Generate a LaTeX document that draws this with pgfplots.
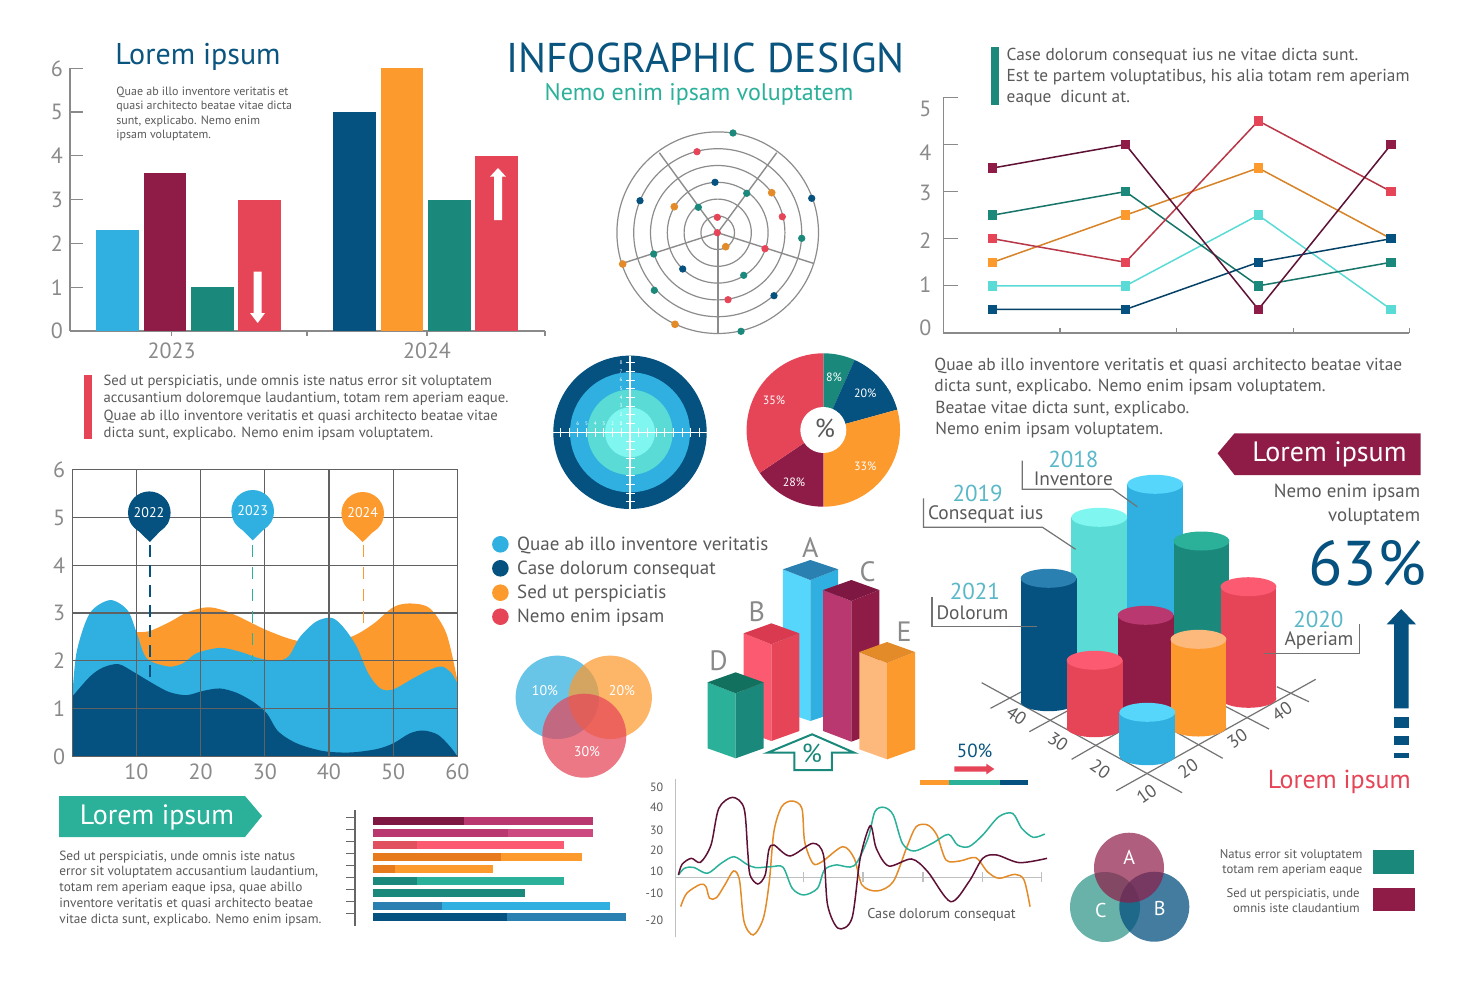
\documentclass[border=0pt]{standalone}
\usepackage{fontspec}
\setmainfont{PT Sans}
\usepackage{pgfplots}
\pgfplotsset{compat=1.18}
\definecolor{cblue}{HTML}{2FB0E0}
\definecolor{lblue}{HTML}{55D6FA}
\definecolor{crim}{HTML}{8E1C47}
\definecolor{lcrim}{HTML}{B8386F}
\definecolor{dcrim}{HTML}{7F1743}
\definecolor{vcrim}{HTML}{5E1035}
\definecolor{pcrim}{HTML}{CC4A80}
\definecolor{teal2}{HTML}{1A897B}
\definecolor{lteal}{HTML}{2BB09A}
\definecolor{dteal}{HTML}{12705F}
\definecolor{red2}{HTML}{E64558}
\definecolor{lred}{HTML}{FB5A70}
\definecolor{dred}{HTML}{D93A50}
\definecolor{mred}{HTML}{E0505F}
\definecolor{navy2}{HTML}{05517F}
\definecolor{mblue}{HTML}{2A80B0}
\definecolor{orng}{HTML}{FD9A2E}
\definecolor{lorng}{HTML}{FDB97C}
\definecolor{dorng}{HTML}{E87A1E}
\definecolor{aqua}{HTML}{5ADBD5}
\definecolor{laqua}{HTML}{7FF7F0}
\definecolor{gtick}{HTML}{8A8A8A}
\definecolor{gtext}{HTML}{5A5A5A}
\definecolor{cal}{HTML}{5BB8C8}
\definecolor{ttl}{HTML}{0A5580}
\newcommand\fs[1]{\fontsize{#1}{#1}\selectfont}
\newcommand\T[6]{\node[anchor=#3,inner sep=0pt,text=#4,font=\fs{#5},text height=#5*0.8pt,text depth=#5*0.2pt] at (axis cs:#1,#2) {#6};}
\newcommand\TR[6]{\node[anchor=center,inner sep=0pt,text=#3,font=\fs{#4},rotate=#5] at (axis cs:#1,#2) {#6};}
\newcommand\poly[2]{\addplot[fill=#1,draw=none] coordinates {#2} -- cycle;}
\newcommand\pline[3]{\addplot[color=#1,line width=#2] coordinates {#3};}
\newcommand\Cir[5]{\fill[#4,opacity=#5] (axis cs:#1,#2) circle[radius=#3*0.5pt];}
\newcommand\Cyl[5]{%
 \fill[#4] (axis cs:#1,#3) ellipse[x radius=13.95pt,y radius=4.75pt];
 \fill[#4] (axis cs:{#1-27.9},#2) rectangle (axis cs:{#1+27.9},#3);
 \fill[#5] (axis cs:#1,#2) ellipse[x radius=13.95pt,y radius=4.75pt];}
\pgfplotsset{
 pix/.style={at={(0pt,0pt)},anchor=south west,x=0.5pt,y=0.5pt,xmin=0,xmax=1475,ymin=0,ymax=980,y dir=reverse,hide axis,clip=false,enlargelimits=false},
 chart/.style={scale only axis,anchor=south west,enlargelimits=false,
   axis line style={draw=gtick,line width=0.6pt},tick style={draw=gtick,line width=0.6pt},
   tick label style={font=\fs{11},text=gtick},/pgf/number format/assume math mode=true}
}
\begin{document}
\begin{tikzpicture}
\path[use as bounding box,fill=white] (0,0) rectangle (737.5pt,490pt);
% ---------- bar chart
\begin{axis}[chart,at={(35pt,324.5pt)},width=237.5pt,height=131.35pt,xmin=0,xmax=475,ymin=0,ymax=6,
  axis x line=bottom,axis y line=left,axis line style={-},tick align=inside,major tick length=6.5pt,
  ytick={0,1,...,6},xtick={237,475},xticklabels={},
  x tick style={/pgfplots/major tick length=2.5pt},
  extra x ticks={101.7,357},extra x tick labels={2023,2024},
  extra x tick style={major tick length=0pt,tick label style={yshift=-2.5pt}},
  ybar,bar width=21.35pt,bar shift=0pt]
\addplot[fill=cblue,draw=none] coordinates {(47.7,2.3)};
\addplot[fill=crim,draw=none] coordinates {(95,3.6)};
\addplot[fill=teal2,draw=none] coordinates {(142.5,1)};
\addplot[fill=red2,draw=none] coordinates {(189.8,3)};
\addplot[fill=navy2,draw=none] coordinates {(284.7,5)};
\addplot[fill=orng,draw=none] coordinates {(332,6)};
\addplot[fill=teal2,draw=none] coordinates {(379.3,3)};
\addplot[fill=red2,draw=none] coordinates {(426.8,4)};
\end{axis}
% ---------- line chart
\begin{axis}[chart,at={(471.65pt,323.5pt)},width=233pt,height=117.85pt,xmin=0.628,xmax=4.137,ymin=0,ymax=5,
  axis x line=bottom,axis y line=left,axis line style={-},tick align=inside,major tick length=7.5pt,
  ytick={0,1,...,5},yticklabels={},xtick={1.507,2.386,3.264,4.137},xticklabels={},
  x tick style={/pgfplots/major tick length=2.5pt},
  extra y ticks={4.75,3.83,2.97,1.95,1.02,0.1},extra y tick labels={5,4,3,2,1,0},
  extra y tick style={major tick length=0pt,tick label style={xshift=-2.5pt}},clip=false]
\addplot[color=aqua,line width=0.75pt,mark=square*,mark size=2pt,mark options={fill=aqua,draw=aqua}] coordinates {(1,1)(2,1)(3,2.5)(4,0.5)};
\addplot[color=orng!85!black,line width=0.75pt,mark=square*,mark size=2pt,mark options={fill=orng,draw=orng}] coordinates {(1,1.5)(2,2.5)(3,3.5)(4,2)};
\addplot[color=teal2!85!black,line width=0.75pt,mark=square*,mark size=2pt,mark options={fill=teal2,draw=teal2}] coordinates {(1,2.5)(2,3)(3,1)(4,1.5)};
\addplot[color=red2!80!black,line width=0.75pt,mark=square*,mark size=2pt,mark options={fill=red2,draw=red2}] coordinates {(1,2)(2,1.5)(3,4.5)(4,3)};
\addplot[color=navy2!80!black,line width=0.75pt,mark=square*,mark size=2pt,mark options={fill=navy2,draw=navy2}] coordinates {(1,0.5)(2,0.5)(3,1.5)(4,2)};
\addplot[color=vcrim,line width=0.75pt,mark=square*,mark size=2pt,mark options={fill=crim,draw=crim}] coordinates {(1,3.5)(2,4)(3,0.5)(4,4)};
\end{axis}
% ---------- area chart
\begin{axis}[chart,at={(36.15pt,111.85pt)},width=192.5pt,height=143.3pt,xmin=0,xmax=60,ymin=0,ymax=6,
  grid=major,grid style={draw=black!62,line width=0.6pt},axis on top,
  axis line style={draw=black!62,line width=0.6pt},major tick length=0pt,
  xtick={10,20,...,60},ytick={0,1,...,6},tick label style={font=\fs{11},text=gtick}]
\addplot[fill=orng,draw=none,smooth] coordinates {(10,2.6)(12,2.62)(15,2.8)(18,3.02)(21,3.12)(23.5,3.06)(26,2.92)(30.3,2.64)(35,2.42)(40,2.4)(43.8,2.52)(47,2.78)(50,3.12)(52.6,3.2)(55.7,3.1)(58.3,2.57)(60,1.6)} -- (axis cs:60,0) -- (axis cs:10,0) -- cycle;
\addplot[fill=cblue,draw=none,smooth] coordinates {(0,1.25)(0.7,2.2)(2.75,3.0)(5.9,3.27)(8.6,3.06)(10,2.6)(11.6,2.05)(15,1.88)(17.3,1.95)(19.4,2.16)(23,2.27)(26.1,2.19)(29.2,2.05)(31.8,2.0)(33.7,2.09)(35.5,2.5)(38,2.82)(40.4,2.9)(42.2,2.71)(44.3,2.3)(46.1,1.74)(48,1.42)(50,1.4)(53.1,1.63)(55.7,1.81)(57.6,1.88)(59.1,1.74)(60,1.53)} -- (axis cs:60,0) -- (axis cs:0,0) -- cycle;
\addplot[fill=navy2,draw=none,smooth] coordinates {(0,1.25)(2.75,1.67)(4.8,1.86)(7.2,1.93)(9.5,1.77)(12.1,1.56)(15,1.35)(17.8,1.28)(20.4,1.37)(23,1.42)(25.6,1.33)(28.2,1.14)(30.3,0.9)(32.1,0.52)(35,0.27)(39.1,0.11)(43.3,0.08)(47.4,0.15)(50,0.27)(52.6,0.48)(54.7,0.54)(57,0.45)(58.9,0.2)(60,0)} -- (axis cs:0,0) -- cycle;
\end{axis}
% ---------- horizontal bars
\begin{axis}[scale only axis,anchor=south west,at={(177.5pt,27.15pt)},width=150pt,height=57.85pt,
  xmin=-18,xmax=282,ymin=810,ymax=925.7,y dir=reverse,clip=false,
  axis x line=none,axis y line=left,axis line style={-,draw=black!60,line width=0.6pt},
  tick style={draw=black!60,line width=0.6pt},tick align=outside,major tick length=4.5pt,
  ytick={817.3,829.3,841.7,853.3,865.7,877.7,889.7,901.7,913.7},yticklabels={},
  xbar,bar width=4.15pt,bar shift=0pt]
\addplot[fill=lcrim,draw=none] coordinates {(219.9,820.7)};
\addplot[fill=dcrim,draw=none] coordinates {(90.9,820.7)};
\addplot[fill=pcrim,draw=none] coordinates {(219.9,832.8)};
\addplot[fill=lcrim,draw=none] coordinates {(134.5,832.8)};
\addplot[fill=lred,draw=none] coordinates {(190.5,844.8)};
\addplot[fill=mred,draw=none] coordinates {(44,844.8)};
\addplot[fill=orng,draw=none] coordinates {(208.9,856.8)};
\addplot[fill=dorng,draw=none] coordinates {(127.6,856.8)};
\addplot[fill=orng,draw=none] coordinates {(119.8,868.8)};
\addplot[fill=dorng,draw=none] coordinates {(21.5,868.8)};
\addplot[fill=lteal,draw=none] coordinates {(190.5,880.8)};
\addplot[fill=teal2,draw=none] coordinates {(44,880.8)};
\addplot[fill=teal2,draw=none] coordinates {(151.5,893.3)};
\addplot[fill=cblue,draw=none] coordinates {(236.9,905.7)};
\addplot[fill=mblue,draw=none] coordinates {(68.8,905.7)};
\addplot[fill=mblue,draw=none] coordinates {(253.4,917)};
\addplot[fill=navy2,draw=none] coordinates {(133.6,917)};
\end{axis}
% ---------- spline chart
\begin{axis}[scale only axis,anchor=south west,at={(337.6pt,21.35pt)},width=183.15pt,height=79.15pt,
  xmin=730,xmax=1528,ymin=-180,ymax=295,clip=false,
  axis y line=left,axis x line=middle,axis line style={-,draw=black!25,line width=0.7pt},
  major tick length=5pt,xtick={1010,1139,1270,1399,1528},xticklabels={},
  x tick style={draw=black!25,line width=0.7pt},y tick style={draw=none},
  ytick={271,209,142,82,19,-48,-130},yticklabels={50,40,30,20,10,-10,-20},
  tick label style={font=\fs{6},text=gtext},/pgf/number format/assume math mode=true,
  every axis plot/.append style={line width=0.75pt,smooth}]
\addplot[color=orng!90!black] coordinates {(742,-88)(755,-48)(785,-21)(797,-28)(805,-63)(820,-61)(838,-23)(857,19)(870,-8)(880,-133)(900,-173)(922,-123)(935,-13)(945,137)(962,212)(985,229)(1006,207)(1012,107)(1030,42)(1050,47)(1095,92)(1120,57)(1137,-23)(1170,-41)(1205,-13)(1235,92)(1255,152)(1280,157)(1300,127)(1320,52)(1350,49)(1385,59)(1410,17)(1435,-3)(1470,9)(1490,-8)(1503,-88)};
\addplot[color=lteal] coordinates {(737,7)(750,27)(770,30)(800,12)(830,42)(858,62)(885,40)(905,29)(940,32)(965,30)(985,-33)(1010,-53)(1040,-33)(1055,22)(1080,37)(1120,35)(1150,117)(1165,197)(1185,210)(1205,187)(1225,102)(1250,79)(1290,102)(1325,129)(1345,97)(1370,92)(1400,127)(1435,182)(1465,192)(1485,147)(1510,120)(1535,130)};
\addplot[color=vcrim] coordinates {(737,7)(745,39)(765,57)(785,45)(808,97)(825,207)(855,240)(880,207)(888,77)(893,7)(910,-20)(926,7)(934,82)(945,97)(980,64)(1030,102)(1053,67)(1062,-83)(1085,-153)(1115,-123)(1133,57)(1155,155)(1168,87)(1195,34)(1245,55)(1280,17)(1330,-73)(1370,-13)(1400,57)(1430,67)(1480,44)(1540,57)};
\end{axis}
% ---------- pie
\begin{axis}[at={(371.65pt,235pt)},anchor=south west,x=0.5pt,y=0.5pt,xmin=-80,xmax=80,ymin=-80,ymax=80,hide axis,clip=false,enlargelimits=false]
\fill[teal2] (axis cs:0,0) -- (axis cs:0,76.7) arc[start angle=90,end angle=66,radius=38.35pt] -- cycle;
\fill[navy2] (axis cs:0,0) -- (axis cs:31.2,70.07) arc[start angle=66,end angle=15.4,radius=38.35pt] -- cycle;
\fill[orng] (axis cs:0,0) -- (axis cs:73.95,20.37) arc[start angle=15.4,end angle=-90,radius=38.35pt] -- cycle;
\fill[crim] (axis cs:0,0) -- (axis cs:0,-76.7) arc[start angle=-90,end angle=-146,radius=38.35pt] -- cycle;
\fill[red2] (axis cs:0,0) -- (axis cs:-63.59,-42.89) arc[start angle=-146,end angle=-270,radius=38.35pt] -- cycle;
\fill[white] (axis cs:0,0) circle[radius=11.5pt];
\end{axis}
% ---------- everything positioned in image pixels
\begin{axis}[pix]
% arrows on bars
\poly{white}{(253.7,271.7)(261.7,271.7)(261.7,313)(265,313)(257.7,323)(250,313)(253.7,313)}
\poly{white}{(494,220)(502,220)(502,176.7)(506,176.7)(498,168)(490,176.7)(494,176.7)}
% titles and text
\T{705.5}{60}{center}{ttl}{20.8}{INFOGRAPHIC DESIGN}
\T{699}{93}{center}{lteal}{12}{Nemo enim ipsam voluptatem}
\T{198}{55}{center}{ttl}{15}{Lorem ipsum}
\T{116}{91.7}{west}{gtext}{6}{Quae ab illo inventore veritatis et}
\T{116}{106}{west}{gtext}{6}{quasi architecto beatae vitae dicta}
\T{116}{120.7}{west}{gtext}{6}{sunt, explicabo. Nemo enim}
\T{116}{135}{west}{gtext}{6}{ipsam voluptatem.}
\poly{red2}{(83.7,375)(91.7,375)(91.7,439.3)(83.7,439.3)}
\T{103.3}{380.7}{west}{gtext}{7.33}{Sed ut perspiciatis, unde omnis iste natus error sit voluptatem}
\T{103.3}{398}{west}{gtext}{7.33}{accusantium doloremque laudantium, totam rem aperiam eaque.}
\T{103.3}{415.7}{west}{gtext}{7.33}{Quae ab illo inventore veritatis et quasi architecto beatae vitae}
\T{103.3}{433}{west}{gtext}{7.33}{dicta sunt, explicabo. Nemo enim ipsam voluptatem.}
\poly{teal2}{(990.7,46.7)(998.7,46.7)(998.7,105.3)(990.7,105.3)}
\T{1006.3}{55}{west}{gtext}{8.65}{Case dolorum consequat ius ne vitae dicta sunt.}
\T{1006.3}{76}{west}{gtext}{8.65}{Est te partem voluptatibus, his alia totam rem aperiam}
\T{1006.3}{97}{west}{gtext}{8.65}{eaque\ \ dicunt at.}
\T{934}{365}{west}{gtext}{8.7}{Quae ab illo inventore veritatis et quasi architecto beatae vitae}
\T{934}{386}{west}{gtext}{8.7}{dicta sunt, explicabo. Nemo enim ipsam voluptatem.}
\T{935}{408}{west}{gtext}{8.7}{Beatae vitae dicta sunt, explicabo.}
\T{935}{429}{west}{gtext}{8.7}{Nemo enim ipsam voluptatem.}
% radar
\pgfplotsinvokeforeach{16.8,33.6,50.4,67.2,84,100.8}{\draw[black!45,line width=0.6pt] (axis cs:717.7,232.7) circle[radius=#1*0.5pt];}
\pline{black!45}{0.7pt}{(659.3,152.7)(717.7,232.7)(776.7,152.7)}
\pline{black!45}{0.7pt}{(622.7,263.3)(717.7,232.7)(813.3,263.3)}
\pline{black!45}{0.9pt}{(717.7,232.7)(717.7,333.3)}
\addplot[only marks,mark=*,mark size=1.6pt,mark options={fill=teal2,draw=teal2}] coordinates {(733,133)(746.7,193.3)(698.3,207.3)(801.7,238.3)(653.7,254)(743.7,275.3)(654.3,290.3)(741,331.3)};
\addplot[only marks,mark=*,mark size=1.6pt,mark options={fill=red2,draw=red2}] coordinates {(697,151.7)(782.3,216.7)(717.3,217.3)(717.3,232.7)(765,248.7)(728,299.7)};
\addplot[only marks,mark=*,mark size=1.6pt,mark options={fill=navy2,draw=navy2}] coordinates {(715,182.3)(811.7,198.3)(640,200.7)(682.7,269)(774,295.7)};
\addplot[only marks,mark=*,mark size=1.7pt,mark options={fill=orng!90!black,draw=orng!90!black}] coordinates {(771.7,192.7)(674.3,206.7)(725.7,246.7)(622.7,264)(675,324.3)};
% target
\Cir{630}{432.3}{76.7}{navy2}{1}
\Cir{630}{432.3}{60}{cblue}{1}
\Cir{630}{432.3}{42.7}{aqua}{1}
\Cir{630}{432.3}{25}{laqua}{1}
\pline{white}{0.7pt}{(553,432.3)(707,432.3)}
\pline{white}{0.7pt}{(630,356)(630,509)}
\pgfplotsinvokeforeach{1,...,8}{
 \draw[white,line width=0.5pt] (axis cs:{630+8.7*#1},428) -- (axis cs:{630+8.7*#1},436.5);
 \draw[white,line width=0.5pt] (axis cs:{630-8.7*#1},428) -- (axis cs:{630-8.7*#1},436.5);
 \draw[white,line width=0.5pt] (axis cs:625.5,{432.3+8.7*#1}) -- (axis cs:634.5,{432.3+8.7*#1});
 \draw[white,line width=0.5pt] (axis cs:625.5,{432.3-8.7*#1}) -- (axis cs:634.5,{432.3-8.7*#1});
 \node[text=white,font=\fs{2.6},inner sep=0pt] at (axis cs:621,{432.3-8.7*#1}) {#1};
}
\pgfplotsinvokeforeach{1,...,6}{\node[text=white,font=\fs{2.6},inner sep=0pt] at (axis cs:{630-8.7*#1},424) {#1};}
% pie labels
\T{834}{378.3}{center}{white}{6}{8\%}
\T{865.3}{394.3}{center}{white}{6}{20\%}
\T{865.3}{466.7}{center}{white}{6}{33\%}
\T{794}{482.7}{center}{white}{6}{28\%}
\T{774}{400.7}{center}{white}{6}{35\%}
\T{825}{430}{center}{gtext}{13}{\%}
% area chart pins
\addplot[color=navy2,line width=1pt,dash pattern=on 6pt off 4pt] coordinates {(150,545)(150,680)};
\addplot[color=lteal,line width=0.7pt,dash pattern=on 6pt off 5pt] coordinates {(252.7,545)(252.7,663)};
\addplot[color=orng,line width=0.7pt,dash pattern=on 6pt off 5pt] coordinates {(363.3,545)(363.3,630)};
\Cir{149.3}{512.7}{21.3}{navy2}{1}
\poly{navy2}{(130.3,522.7)(149.8,542)(168.3,522.7)}
\Cir{252.7}{511.3}{21.3}{cblue}{1}
\poly{cblue}{(233.7,521.3)(252.7,540.3)(271.7,521.3)}
\Cir{362.7}{513.3}{21.3}{orng}{1}
\poly{orng}{(343.7,523.3)(362.7,542)(381.7,523.3)}
\T{149}{513}{center}{white}{7}{2022}
\T{252.7}{511.5}{center}{white}{7}{2023}
\T{362.7}{513.5}{center}{white}{7}{2024}
% legend
\Cir{500.4}{544.3}{8.3}{cblue}{1}
\Cir{500.4}{568.3}{8.3}{navy2}{1}
\Cir{500.4}{592.7}{8.3}{orng}{1}
\Cir{500.4}{616.7}{8.3}{red2}{1}
\T{516.8}{544.3}{west}{gtext}{9.5}{Quae ab illo inventore veritatis}
\T{516.8}{568.3}{west}{gtext}{9.5}{Case dolorum consequat}
\T{516.8}{592.7}{west}{gtext}{9.5}{Sed ut perspiciatis}
\T{516.8}{616.7}{west}{gtext}{9.5}{Nemo enim ipsam}
% venn 1
\Cir{557.3}{697.3}{41.7}{cblue}{0.72}
\Cir{610.2}{697.3}{41.7}{orng}{0.72}
\Cir{584.3}{735.7}{42}{red2}{0.72}
\T{545}{691}{center}{white}{7}{10\%}
\T{622}{691}{center}{white}{7}{20\%}
\T{587}{752}{center}{white}{7}{30\%}
% 3D bars
\poly{lblue}{(782.9,569.3)(810.4,580)(810.4,721)(782.9,711.7)}
\poly{cblue}{(838.2,569.3)(810.4,580)(810.4,721)(838.2,711.7)}
\poly{mblue}{(782.9,569.3)(810.4,560)(838.2,569.3)(810.4,580)}
\poly{lred}{(743.6,633.3)(771.4,644.3)(771.4,741)(743.6,731)}
\poly{red2}{(799.3,633.3)(771.4,644.3)(771.4,741)(799.3,731)}
\poly{dred}{(743.6,633.3)(771.4,623.3)(799.3,633.3)(771.4,644.3)}
\poly{lcrim}{(823.2,590)(851.4,601)(851.4,741.7)(823.2,731)}
\poly{crim}{(879.3,590)(851.4,601)(851.4,741.7)(879.3,731)}
\poly{dcrim}{(823.2,590)(851.4,580)(879.3,590)(851.4,601)}
\poly{lteal}{(707.5,682.3)(735.7,693.3)(735.7,758.3)(707.5,748.3)}
\poly{teal2}{(763.6,682.3)(735.7,693.3)(735.7,758.3)(763.6,748.3)}
\poly{dteal}{(707.5,682.3)(735.7,672.3)(763.6,682.3)(735.7,693.3)}
\poly{lorng}{(859.3,652)(887.1,663)(887.1,759.3)(859.3,749.3)}
\poly{orng}{(915,652)(887.1,663)(887.1,759.3)(915,749.3)}
\poly{orng!90!black}{(859.3,652)(887.1,642)(915,652)(887.1,663)}
\T{810.4}{549}{center}{gtick}{14}{A}
\T{756.8}{612.7}{center}{gtick}{14}{B}
\T{867.5}{572.7}{center}{gtick}{14}{C}
\T{718.6}{661.7}{center}{gtick}{14}{D}
\T{904}{633.3}{center}{gtick}{14}{E}
\addplot[color=teal2,line width=1pt] coordinates {(812.1,734.3)(854.3,752.7)(831.8,752.7)(831.8,770)(794.3,770)(794.3,752.7)(767.5,752.7)} -- cycle;
\T{812}{755}{center}{teal2}{13}{\%}
% 50% widget
\T{974.6}{751.7}{center}{ttl}{9.5}{50\%}
\poly{red2}{(954.3,766.3)(986.4,766.3)(986.4,763.7)(994.3,769)(986.4,774.3)(986.4,771.7)(954.3,771.7)}
\poly{orng}{(920,779.7)(949,779.7)(949,785)(920,785)}
\poly{lteal}{(949,779.7)(1000,779.7)(1000,785)(949,785)}
\poly{navy2}{(1000,779.7)(1027.5,779.7)(1027.5,785)(1000,785)}
% floor grid
\pline{black!55}{0.6pt}{(981.7,682.7)(1182.1,792.7)}
\pline{black!55}{0.6pt}{(1116.2,790.7)(1315.7,679.3)}
\pline{black!55}{0.6pt}{(990.5,708.3)(1021.6,691.7)}
\pline{black!55}{0.6pt}{(1029.3,731.7)(1067.2,711)}
\pline{black!55}{0.6pt}{(1071.6,759.3)(1119.6,731.7)}
\pline{black!55}{0.6pt}{(1308.9,701.7)(1276.8,686.7)}
\pline{black!55}{0.6pt}{(1269,729)(1226.1,706.7)}
\pline{black!55}{0.6pt}{(1222.7,758.3)(1175.4,731.7)}
\TR{1016.5}{715.7}{gtext}{9}{-35}{40}
\TR{1058}{741.7}{gtext}{9}{-35}{30}
\TR{1100.3}{769}{gtext}{9}{-35}{20}
\TR{1146.6}{794}{gtext}{9}{35}{10}
\TR{1187.9}{768.3}{gtext}{9}{35}{20}
\TR{1237.3}{738.3}{gtext}{9}{35}{30}
\TR{1281.9}{711.7}{gtext}{9}{35}{40}
% cylinders
\Cyl{1155.1}{484.3}{663}{cblue}{lblue}
\Cyl{1099.3}{517.3}{690}{aqua}{laqua}
\Cyl{1201.4}{541}{690}{teal2}{lteal}
\Cyl{1048.6}{578.3}{701.7}{navy2}{mblue}
\Cyl{1248.4}{586.7}{698.3}{red2}{lred}
\Cyl{1145.6}{615.3}{706.7}{crim}{lcrim}
\Cyl{1094.6}{660.3}{727.7}{red2}{lred}
\Cyl{1198.4}{639.3}{727}{orng}{lorng}
\Cyl{1147.3}{712.3}{755.7}{cblue}{lblue}
% callouts
\pline{black!55}{0.6pt}{(1022.2,460.7)(1022.2,489.3)(1112.8,489.3)(1137.2,506.7)}
\pline{black!55}{0.6pt}{(923.5,498.3)(923.5,527.3)(1042.5,527.3)(1075.6,549.3)}
\pline{black!55}{0.6pt}{(932,596.7)(932,626.7)(1036.8,626.7)}
\pline{black!55}{0.6pt}{(1359.6,624)(1359.6,653.3)(1264.3,653.3)}
\T{1073.3}{460.7}{center}{cal}{11.5}{2018}
\T{1073.3}{480}{center}{gtext}{9.7}{Inventore}
\T{977.6}{495}{center}{cal}{11.5}{2019}
\T{985.7}{514}{center}{gtext}{9.7}{Consequat ius}
\T{974.9}{592.3}{center}{cal}{11.5}{2021}
\T{972.5}{613.3}{center}{gtext}{9.7}{Dolorum}
\T{1318.4}{620.7}{center}{cal}{11.5}{2020}
\T{1319}{640}{center}{gtext}{9.7}{Aperiam}
% right column
\poly{crim}{(1217.6,453.3)(1234.5,433.3)(1420.5,433.3)(1420.5,475)(1234.5,475)}
\T{1329.5}{453}{center}{white}{14}{Lorem ipsum}
\T{1420.5}{492}{east}{gtext}{9.45}{Nemo enim ipsam}
\T{1420.5}{515.7}{east}{gtext}{9.45}{voluptatem}
\T{1367}{567}{center}{navy2}{31.6}{63\%}
\poly{navy2}{(1401.2,609)(1416,624.3)(1408.6,624.3)(1408.6,708.3)(1394,708.3)(1394,624.3)(1386.7,624.3)}
\poly{navy2}{(1394,716.7)(1408.6,716.7)(1408.6,727.7)(1394,727.7)}
\poly{navy2}{(1394,735.7)(1408.6,735.7)(1408.6,745)(1394,745)}
\poly{navy2}{(1394,753.3)(1408.6,753.3)(1408.6,758.3)(1394,758.3)}
\T{1339.3}{781}{center}{red2}{13}{Lorem ipsum}
% bottom left
\poly{lteal}{(59,796)(245,796)(262,816)(245,837)(59,837)}
\T{157}{816}{center}{white}{14}{Lorem ipsum}
\T{59}{856}{west}{gtext}{6.65}{Sed ut perspiciatis, unde omnis iste natus}
\T{59}{871}{west}{gtext}{6.65}{error sit voluptatem accusantium laudantium,}
\T{59}{887}{west}{gtext}{6.65}{totam rem aperiam eaque ipsa, quae abillo}
\T{59}{903}{west}{gtext}{6.65}{inventore veritatis et quasi architecto beatae}
\T{59}{919}{west}{gtext}{6.65}{vitae dicta sunt, explicabo. Nemo enim ipsam.}
\T{941.5}{914}{center}{gtext}{7.1}{Case dolorum consequat}
% venn 2
\Cir{1105}{907}{35}{teal2}{0.65}
\Cir{1154.3}{906.7}{35}{navy2}{0.75}
\Cir{1129}{867.7}{35}{crim}{0.7}
\T{1129.3}{858.3}{center}{white}{10}{A}
\T{1100.7}{911}{center}{white}{10}{C}
\T{1159.7}{909.3}{center}{white}{10}{B}
\T{1362.7}{854.3}{east}{gtext}{6.35}{Natus error sit voluptatem}
\T{1362.7}{869.3}{east}{gtext}{6.35}{totam rem aperiam eaque}
\T{1360}{893.3}{east}{gtext}{6.35}{Sed ut perspiciatis, unde}
\T{1360}{908.3}{east}{gtext}{6.35}{omnis iste claudantium}
\poly{teal2}{(1372.7,850)(1414.3,850)(1414.3,874.3)(1372.7,874.3)}
\poly{crim}{(1373.3,888.3)(1414.7,888.3)(1414.7,911.3)(1373.3,911.3)}
\end{axis}
\end{tikzpicture}
\end{document}
